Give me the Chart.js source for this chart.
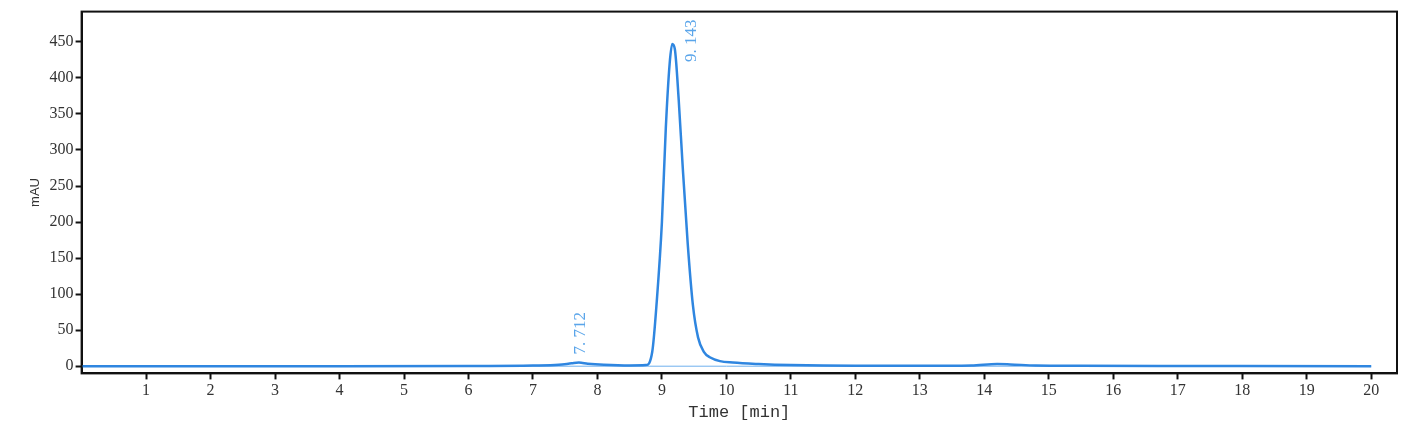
<!DOCTYPE html>
<html><head><meta charset="utf-8">
<script src="https://cdn.jsdelivr.net/npm/chart.js@4"></script>
<style>html,body{margin:0;padding:0;background:#fff}#w{width:1422px;height:439px}</style>
</head><body><div id="w"><canvas id="c"></canvas></div>
<script>
const times = [0,2,4,6,7,7.4,7.6,7.712,7.85,8.1,8.5,8.75,8.85,8.92,9.0,9.06,9.12,9.16,9.2,9.26,9.32,9.4,9.48,9.56,9.65,9.75,9.9,10.1,10.5,11,12,13,13.8,14.2,14.4,14.8,15.5,17,20];
const signal = [0,0,0,0.3,1,2,4,5,3.5,2,1,1.5,20,90,200,330,420,447,440,370,280,170,85,40,20,12,7,5,3,1.5,0.5,0.5,1,3,2.5,1,0.5,0.2,0];
const peakTimes = [7.712, 9.143];
const peakLabels = ["7. 712", "9. 143"];
const peakHeights = [5, 447];
const xTicks = [1,2,3,4,5,6,7,8,9,10,11,12,13,14,15,16,17,18,19,20];
const yTicks = [0,50,100,150,200,250,300,350,400,450];
const blue = '#2f86e0';
const font = {family:'"Liberation Serif", serif', size:16};

const labelPlugin = {
  id:'peaklabels',
  afterDatasetsDraw(chart){
    const {ctx, scales:{x,y}} = chart;
    ctx.save();
    ctx.fillStyle = '#5aa5ea';
    ctx.font = '17px "Liberation Serif", serif';
    peakTimes.forEach((t,i)=>{
      const px = x.getPixelForValue(t), py = y.getPixelForValue(peakHeights[i]);
      ctx.save();
      if(i===0){ ctx.translate(px+2, py-8); }
      else { ctx.translate(px+20, py+18); }
      ctx.rotate(-Math.PI/2);
      ctx.textBaseline='middle'; ctx.textAlign='left';
      ctx.fillText(peakLabels[i],0,0);
      ctx.restore();
    });
    ctx.restore();
  }
};
const boxPlugin = {
  id:'box',
  afterDraw(chart){
    const {ctx, chartArea:a} = chart;
    ctx.save(); ctx.strokeStyle='#111'; ctx.lineWidth=2;
    ctx.strokeRect(a.left,a.top,a.right-a.left,a.bottom-a.top);
    ctx.restore();
  }
};

new Chart(document.getElementById('c'),{
  type:'line',
  data:{datasets:[
    {data:times.map((t,i)=>({x:t,y:signal[i]})),borderColor:blue,borderWidth:2.5,pointRadius:0,tension:0.4,cubicInterpolationMode:'monotone'},
    {data:[{x:0,y:0},{x:20,y:0}],borderColor:'#6fb0ee',borderWidth:1,pointRadius:0}
  ]},
  options:{
    responsive:true, maintainAspectRatio:false, animation:false,
    layout:{padding:{left:24,right:25,top:10,bottom:12}},
    plugins:{legend:{display:false},tooltip:{enabled:false}},
    scales:{
      x:{type:'linear',min:0,max:20.4,
        afterBuildTicks(s){s.ticks=xTicks.map(v=>({value:v}));},
        grid:{display:true,drawOnChartArea:false,drawTicks:true,tickLength:6,tickColor:'#111',tickWidth:2},
        border:{display:true,color:'#111',width:2},
        ticks:{color:'#333',font,padding:2,maxRotation:0,autoSkip:false},
        title:{display:true,text:'Time [min]',color:'#333',font:{family:'"Liberation Mono", monospace',size:17},padding:{top:0}}
      },
      y:{min:-10,max:492,
        afterBuildTicks(s){s.ticks=yTicks.map(v=>({value:v}));},
        grid:{display:true,drawOnChartArea:false,drawTicks:true,tickLength:6,tickColor:'#111',tickWidth:2},
        border:{display:true,color:'#111',width:2},
        ticks:{color:'#333',font,padding:2},
        title:{display:true,text:'mAU',color:'#333',font:{family:'"Liberation Sans", sans-serif',size:13},padding:{bottom:4}}
      }
    }
  },
  plugins:[labelPlugin,boxPlugin]
});
</script></body></html>
